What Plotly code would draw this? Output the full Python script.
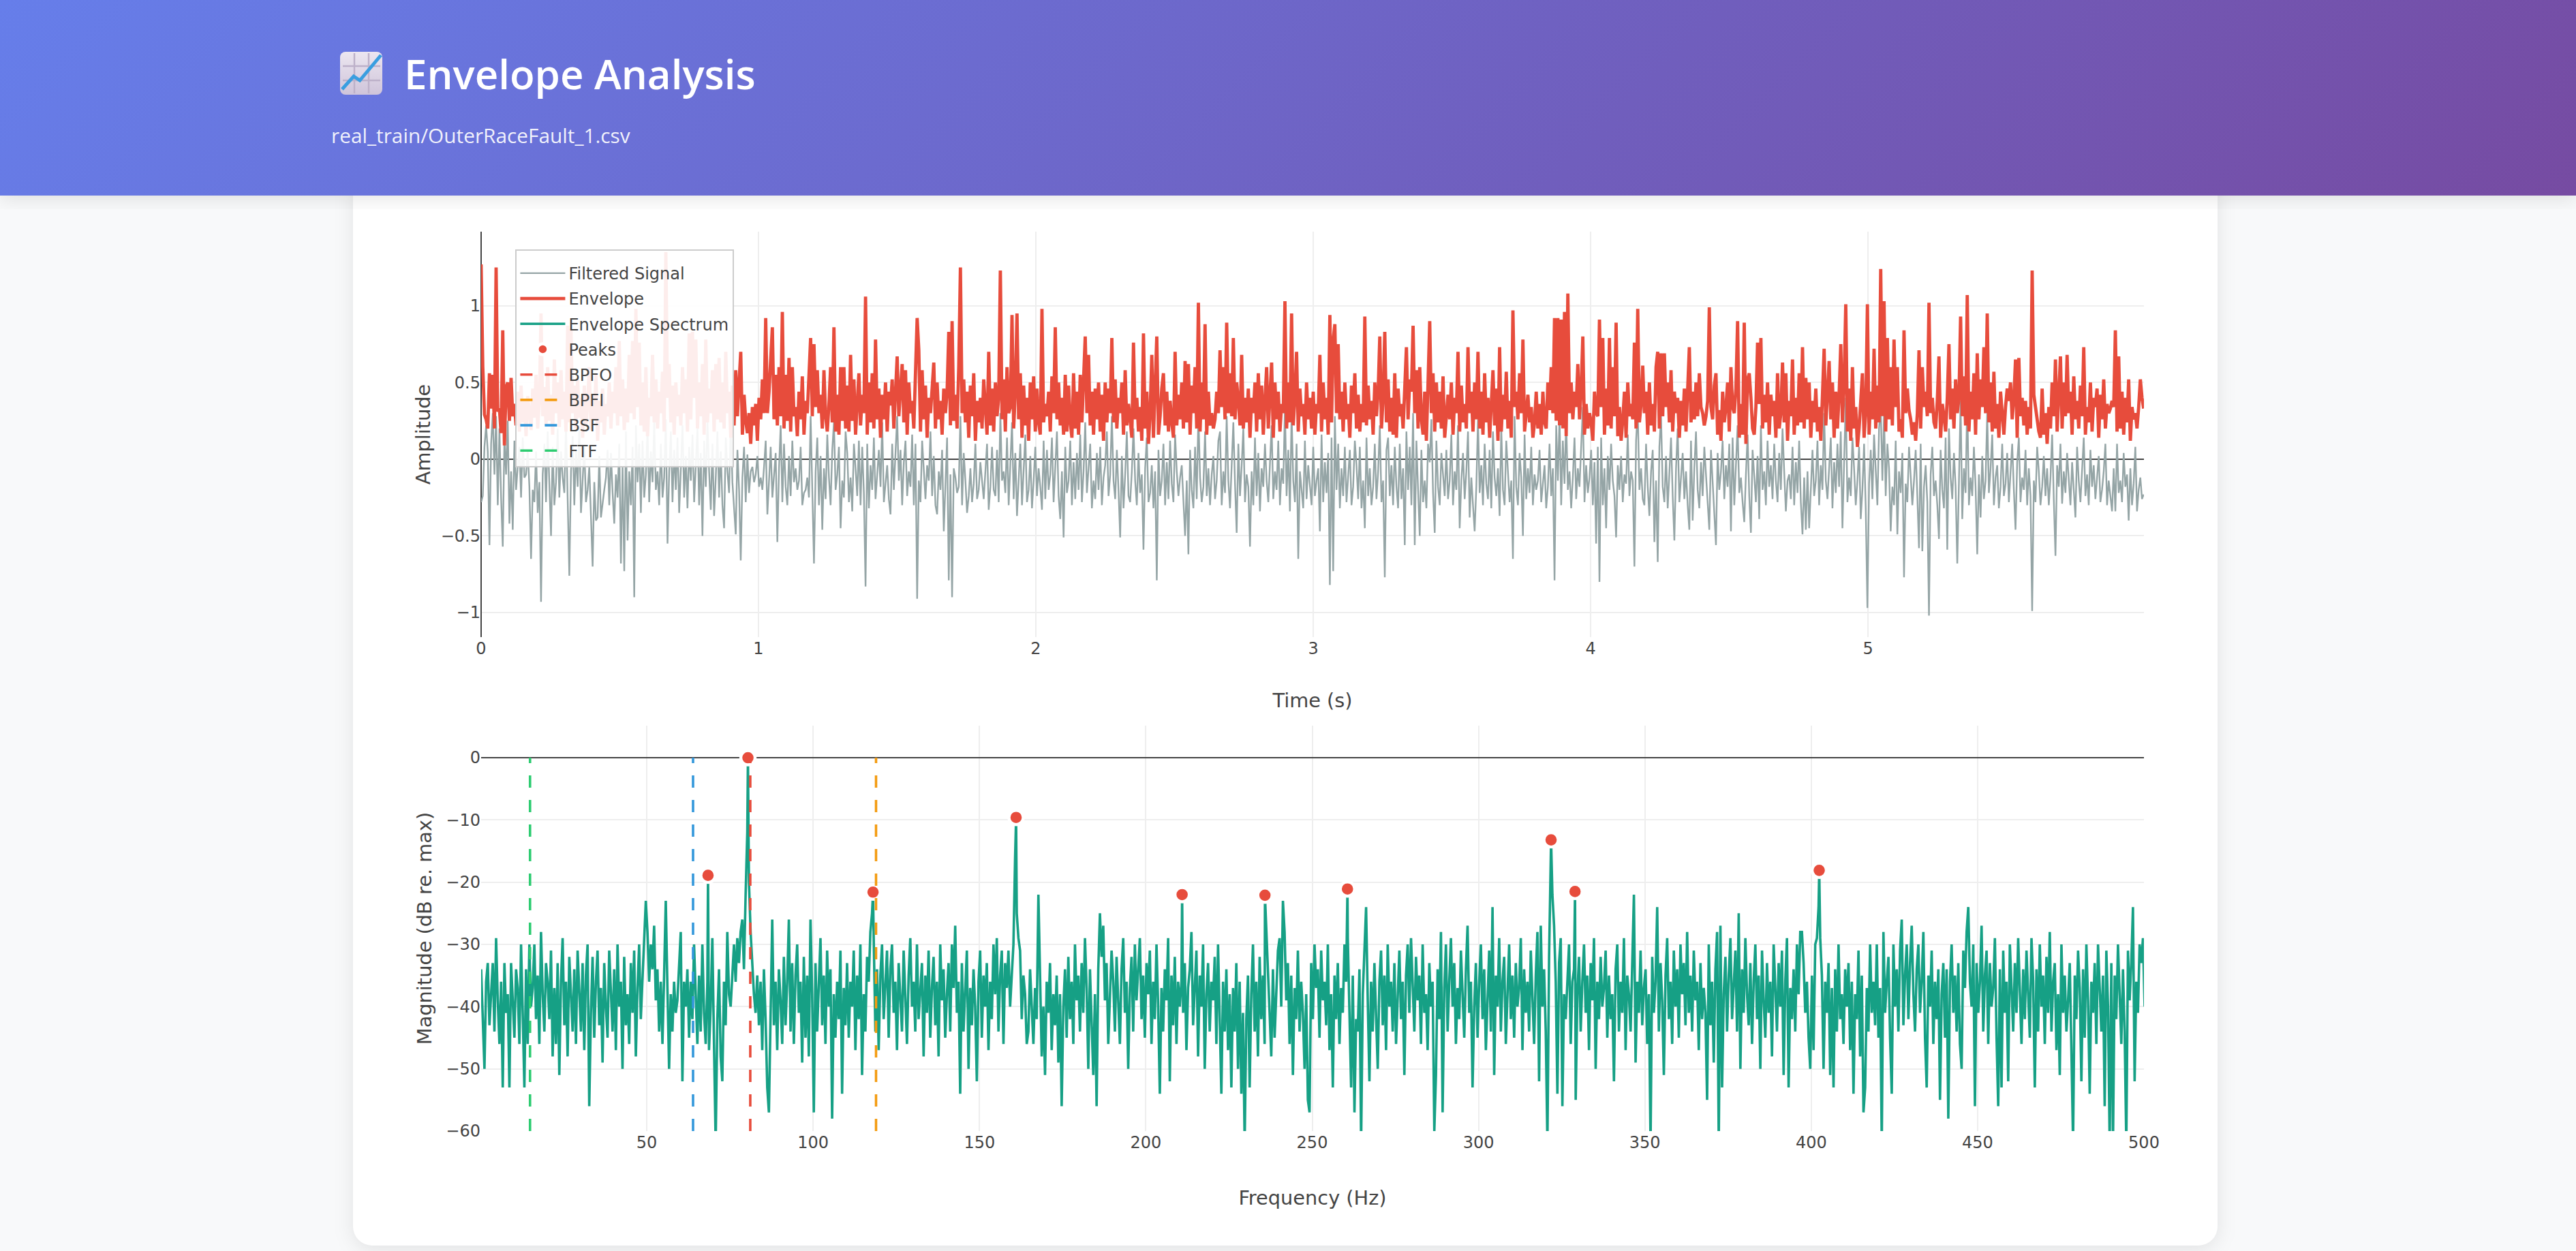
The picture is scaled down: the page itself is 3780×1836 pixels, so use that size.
import base64
import numpy as np
import plotly.graph_objects as go

W, H = 3780, 1836
L, R, T, B = 706, 3146, 340, 1660
TITLE = "Envelope Analysis"
SUBTITLE = "real_train/OuterRaceFault_1.csv"

TIME_STEP = 0.006
# amplitudes in hundredths, 20 samples per row
envelope_pct = [
127,60,29,26,20,56,33,55,20,125,31,33,17,84,9,47,50,25,53,28,
36,22,44,18,48,24,38,15,41,30,19,46,27,55,20,38,95,28,47,22,
60,25,42,16,65,30,50,21,58,26,44,18,87,24,85,30,48,20,52,27,
40,14,48,22,36,60,19,42,26,55,12,38,24,46,16,36,28,50,20,44,
30,60,22,77,28,52,19,46,24,68,30,77,26,98,34,76,22,50,18,60,
15,40,28,68,24,52,20,44,30,57,18,135,40,62,24,48,16,50,28,42,
22,60,30,52,18,82,26,83,40,78,20,50,28,62,16,78,24,46,30,58,
18,62,26,66,24,50,20,70,30,44,14,48,22,58,28,50,70,16,42,25,
17,30,10,34,22,36,12,40,26,52,30,92,30,44,62,86,26,55,22,60,
28,96,20,55,25,66,18,60,28,34,15,44,26,54,16,38,30,52,79,28,
75,34,58,30,42,20,58,28,18,36,60,24,86,18,42,16,60,25,60,20,
48,18,68,25,52,16,38,56,22,42,30,106,16,50,24,56,20,78,26,46,
14,42,26,50,18,44,35,52,20,40,67,28,50,62,24,58,16,50,30,38,
20,55,92,71,18,58,26,48,14,40,30,46,63,20,50,26,38,16,46,30,
44,83,22,90,25,42,20,60,125,30,52,24,44,14,48,28,56,12,38,24,
40,20,52,34,16,70,22,46,18,50,28,40,123,26,52,18,60,30,34,94,
20,44,95,26,56,14,48,22,40,12,50,26,54,18,46,24,16,98,24,36,
28,44,18,54,30,86,26,50,22,40,16,55,18,48,24,14,56,20,44,16,
55,24,50,80,30,68,22,44,16,46,26,50,18,42,12,50,24,46,30,79,
24,52,20,40,30,50,16,58,22,36,26,14,76,26,40,18,34,12,82,20,
44,10,30,68,14,46,80,16,28,46,56,22,44,18,38,24,14,70,22,42,
26,50,20,64,24,62,16,48,30,60,20,102,18,50,26,88,16,44,22,30,
20,26,44,30,71,34,60,26,89,30,56,28,79,26,50,38,22,68,20,40,
24,46,14,40,30,50,18,56,26,48,16,38,60,20,44,63,14,50,26,44,
18,36,30,103,20,50,24,95,22,40,70,18,46,28,36,16,50,26,40,20,
44,16,36,30,68,18,50,26,40,16,94,24,78,88,30,75,26,44,18,50,
26,36,14,48,30,56,20,42,18,36,24,93,22,48,26,38,16,50,28,44,
80,20,40,83,24,52,18,40,16,56,14,46,28,36,20,50,73,26,52,44,
87,30,58,20,60,26,16,44,12,50,90,30,56,18,50,24,44,20,54,14,
30,42,26,50,16,40,30,70,18,48,24,36,20,73,30,44,18,50,26,70,
20,44,16,56,24,40,14,36,58,22,46,12,73,18,42,26,57,20,38,14,
97,34,44,26,56,30,78,18,30,42,24,34,14,24,44,20,36,16,44,24,
20,50,32,60,30,92,25,92,22,91,20,96,15,108,30,50,26,44,34,62,
26,46,80,16,36,20,30,24,12,44,30,28,91,34,79,16,46,22,79,20,
60,28,89,15,34,12,26,44,14,50,28,36,26,76,20,98,24,36,61,30,
44,16,50,22,36,18,60,70,20,69,28,69,34,50,24,58,18,44,30,40,
14,38,22,46,18,42,73,24,44,26,50,28,56,34,30,22,28,38,99,34,
26,48,56,16,32,12,44,24,34,50,18,60,34,30,46,90,14,36,16,89,
10,52,56,40,20,16,34,76,36,79,20,42,24,50,16,42,28,38,14,56,
20,30,63,24,56,12,38,28,65,16,40,22,56,24,73,20,53,26,50,14,
38,24,46,18,34,12,40,72,22,40,64,26,50,14,44,20,42,75,24,50,
101,18,46,12,60,20,34,8,20,38,56,14,30,101,16,44,26,72,20,48,
24,124,28,103,18,79,26,60,22,78,34,60,18,26,14,84,30,46,32,26,
16,24,12,30,71,20,60,34,44,28,102,30,40,24,20,38,67,14,36,28,
18,40,75,26,46,20,52,30,40,93,28,54,22,107,18,44,26,56,16,69,
26,52,34,73,30,95,24,50,18,57,20,36,14,44,26,16,34,46,38,50,
26,40,65,14,66,28,40,22,38,16,34,20,123,42,34,26,18,14,46,16,
30,10,34,20,50,28,65,18,44,67,20,50,28,68,30,44,16,54,26,38,
20,48,28,73,16,34,24,50,18,40,34,46,14,42,26,52,20,36,30,33,
38,34,84,18,67,20,44,16,40,24,52,12,34,26,30,20,34,52,40,33,
]
signal_pct = [
-28,-24,8,22,5,-56,10,30,-10,28,-30,20,-25,-57,15,-10,25,-42,-8,-46,
12,-20,-5,8,-25,14,-12,-10,6,-18,-65,-20,-28,5,-35,-15,-93,-10,10,-28,
18,-20,-50,8,-30,-15,20,-25,5,-12,-22,24,-35,-76,-8,15,-30,6,-18,22,
-35,-12,8,-28,-20,-5,-34,-70,-15,-40,-38,2,-38,-28,-20,-12,6,-30,4,-22,
-42,-10,-25,10,-68,-5,-73,18,-53,-8,-30,8,-90,22,-15,10,-35,12,-25,-10,
20,-28,5,-15,24,-20,-8,-30,10,-25,-12,26,-55,-8,18,-28,6,-20,14,-35,
-10,22,-25,2,-32,8,-14,16,-28,-5,20,-30,4,-50,12,-18,25,-8,-33,10,
-37,-12,18,-25,5,-30,-45,14,-8,-22,24,-15,-30,-49,6,-20,-66,-12,8,-28,
3,-22,-8,-5,-15,-10,2,-18,-12,-20,-5,12,-36,-14,8,-25,-10,4,-54,-6,
22,-28,10,-18,-30,2,-24,12,-15,-6,-20,-14,8,-30,-22,-20,-12,-25,28,-18,
-68,-8,14,-30,2,-46,-6,-26,16,-12,-30,6,24,-20,-10,8,-45,-14,-25,18,
4,-28,-12,-34,10,-6,-24,12,-30,8,-22,-83,10,-32,-4,-20,14,-26,-12,6,
-18,24,-28,-14,-4,-26,-36,10,-20,4,28,-14,6,-30,-2,12,-24,-8,-18,16,
-30,10,-91,-14,-28,12,-6,-26,-4,-14,18,-24,2,-30,-36,-8,-20,6,-47,-12,
14,-79,-10,-90,-6,-12,-22,-18,28,-30,4,-14,-35,-24,-6,-28,-16,10,-26,-20,
-2,-14,-26,-8,10,-33,-18,8,-20,-24,6,-28,30,-14,-8,-22,14,-30,-6,24,
-26,4,-37,-12,10,-30,-6,16,-28,-20,2,-32,-14,8,-24,-6,-18,-33,12,-26,
6,-20,-10,14,-28,-4,18,-24,-39,-8,-51,8,-22,-14,12,-30,-2,-26,4,-20,
16,-28,-8,24,-22,-6,10,-32,-14,-26,4,-20,8,-30,-12,-4,18,-24,-10,28,
-14,-26,6,-20,-51,2,-32,-10,18,-24,-28,-8,20,-14,-30,4,-22,-10,-59,-6,
14,-28,-22,-4,-32,-8,-79,6,-24,-14,10,-30,-2,-26,12,-16,-28,16,-8,-24,
-12,-4,-30,-50,-14,-62,6,-20,-32,8,-26,30,-12,-28,-18,18,-24,-6,-30,-10,
2,-26,-14,12,18,-30,-8,-22,28,-14,-32,-6,24,-16,-48,10,-24,-4,20,-28,
-10,-18,-57,-8,-30,14,-24,4,-34,-6,-18,10,-14,-28,-2,22,-26,-8,-20,12,
-30,-6,-16,34,-24,6,-34,30,-14,-28,10,-65,-8,-22,-32,12,-26,-4,-18,-30,
8,-24,-14,-6,-47,16,-28,-2,-22,4,-82,14,-73,28,-20,10,-32,-6,-24,8,
-28,-12,6,-30,-18,12,-4,-26,8,-32,-14,-45,14,-24,-6,-30,-18,10,-26,-8,
22,-28,-14,-77,6,14,-24,-4,-30,8,-18,-32,10,-26,-6,-56,18,-20,8,-30,
30,-56,12,-20,-50,6,-28,-14,-32,10,-2,26,-22,-48,12,-18,-30,4,-12,-24,
6,-26,-14,16,-30,-8,-20,22,-45,-14,4,-26,-8,18,-38,-12,-30,-47,-18,26,
-22,-4,-30,10,-16,-26,6,-32,18,-12,-24,-6,-37,20,-20,-30,12,-8,-28,-14,
-65,28,-18,-30,4,-12,-50,16,-26,-6,-22,8,-30,-10,-20,-14,6,-28,-16,-4,
-32,-18,10,-24,-6,-79,22,-14,28,-30,12,-16,26,-20,-8,-32,-12,14,-26,-6,
-18,10,34,-28,-4,-22,-12,6,-30,-2,-55,8,-80,14,-30,-6,-45,2,-20,10,
-14,-24,-51,-4,-20,2,-28,-10,-16,16,-24,-8,-14,-70,12,32,-20,-6,-26,-30,
10,-18,-37,-8,6,-54,-14,-67,8,28,-18,-28,2,-32,-10,14,-24,-53,-6,20,
-28,-14,4,-26,-8,-30,-46,12,-40,-6,18,-20,-32,-2,-24,8,-12,-26,-46,6,
-14,-30,-56,4,-20,-8,12,-26,-4,-18,10,-47,14,-30,-6,22,-22,-12,-28,-41,
-10,16,-24,-48,6,-14,-28,2,-39,22,-20,-8,-30,12,-18,-4,-26,10,-14,-28,
4,-20,20,-8,-34,-14,-10,-26,8,-30,-2,-22,12,-28,-49,-12,-46,-8,-45,-20,
6,-24,-14,12,-30,-4,-20,30,-14,-26,-8,14,-32,-2,-22,10,-18,18,-45,-8,
40,-28,-12,-24,14,-6,-30,-14,8,-39,-20,10,-32,-97,-16,6,-26,16,-8,-30,
20,34,-14,30,-24,10,-6,-47,-18,-30,12,-49,-8,-22,4,-77,-16,-28,8,-12,
-30,-14,6,-24,-58,10,-60,-18,-4,-28,-102,-10,8,-24,-14,-30,-52,6,-20,-32,
14,-59,20,-12,-26,4,-18,-68,-8,38,-39,-6,-22,40,-30,-12,-24,8,-18,-62,
-10,-38,2,-26,-14,30,-22,-6,16,-30,-12,-4,-32,-18,10,-24,-16,4,-28,-8,
10,-20,-46,-2,14,-28,-12,-20,6,-30,-6,-24,-99,-14,-28,8,-8,-30,-18,2,
-24,-6,-30,-12,16,-26,-63,-4,-18,10,-29,-8,-22,4,-14,-30,-2,-20,-38,8,
-14,-28,-6,14,-24,-10,-30,6,-18,-4,-26,-12,2,-28,-20,-8,10,-30,-14,-24,
-34,-6,-34,10,-22,-14,-28,4,-18,-10,-40,-6,-30,-16,8,-34,-20,-12,-26,-23,
]

FREQ_START, FREQ_STEP = 0.2, 0.5
# magnitude in dB, 20 samples (10 Hz) per row
spectrum_db = [
-34,-41,-50,-36,-33,-43,-38,-33,-44,-29,-39,-46,-36,-53,-33,-41,-38,-53,-33,-40,
-45,-34,-37,-46,-30,-41,-53,-34,-46,-30,-40,-37,-30,-42,-35,-46,-28,-38,-44,-33,
-36,-42,-31,-48,-37,-46,-33,-51,-36,-29,-43,-36,-48,-32,-39,-44,-34,-46,-31,-38,
-44,-33,-47,-35,-30,-56,-41,-32,-45,-36,-31,-43,-37,-49,-33,-40,-45,-31,-38,-44,
-34,-47,-30,-40,-36,-50,-32,-43,-38,-46,-33,-41,-31,-48,-37,-30,-42,-35,-28,-23,
-28,-36,-30,-34,-27,-39,-34,-44,-36,-46,-35,-23,-37,-50,-38,-44,-36,-41,-39,-34,
-28,-52,-36,-40,-34,-45,-36,-42,-30,-38,-46,-35,-44,-30,-41,-46,-36,-47,-40,-29,
-46,-62,-42,-34,-48,-52,-36,-43,-28,-38,-40,-34,-30,-36,-29,-33,-28,-26,-34,-22,
-12,-20,-28,-34,-38,-41,-35,-43,-36,-47,-34,-42,-53,-57,-40,-26,-43,-36,-47,-34,
-39,-46,-32,-43,-36,-26,-44,-33,-46,-35,-30,-41,-36,-49,-32,-45,-35,-48,-26,-38,
-57,-33,-44,-37,-29,-43,-35,-46,-31,-40,-34,-58,-38,-45,-36,-42,-31,-54,-37,-43,
-33,-45,-36,-40,-31,-47,-35,-42,-30,-51,-38,-44,-32,-36,-28,-25,-29,-44,-34,-47,
-35,-30,-42,-37,-31,-45,-34,-30,-41,-36,-47,-33,-39,-44,-31,-38,-46,-35,-29,-40,
-36,-44,-30,-42,-37,-33,-48,-35,-41,-31,-45,-37,-32,-43,-36,-48,-30,-39,-34,-45,
-38,-33,-44,-30,-37,-27,-41,-36,-54,-33,-44,-38,-31,-50,-37,-43,-34,-40,-52,-36,
-31,-45,-35,-40,-33,-47,-36,-42,-30,-38,-29,-44,-35,-31,-46,-33,-37,-31,-40,-35,
-30,-16,-25,-29,-31,-42,-35,-38,-46,-44,-34,-40,-46,-37,-42,-22,-35,-48,-40,-51,
-36,-41,-33,-47,-38,-43,-35,-49,-38,-56,-40,-34,-45,-32,-42,-36,-46,-30,-39,-35,
-44,-33,-41,-29,-37,-50,-34,-44,-51,-38,-56,-34,-25,-32,-27,-39,-33,-46,-37,-31,
-36,-44,-32,-40,-46,-34,-29,-41,-36,-50,-37,-32,-44,-30,-39,-34,-29,-42,-35,-45,
-33,-38,-31,-46,-36,-42,-30,-40,-54,-37,-44,-34,-39,-29,-52,-35,-43,-32,-46,-36,
-40,-36,-41,-33,-47,-37,-34,-28,-43,-36,-31,-48,-35,-40,-30,-50,-38,-33,-44,-36,
-39,-32,-46,-30,-41,-54,-36,-44,-34,-47,-38,-53,-37,-44,-33,-50,-36,-54,-41,-62,
-42,-35,-53,-38,-30,-44,-36,-48,-32,-42,-35,-46,-28,-36,-41,-48,-34,-45,-37,-31,
-29,-40,-23,-28,-39,-33,-46,-35,-51,-37,-42,-31,-44,-36,-41,-50,-38,-55,-57,-33,
-42,-30,-37,-34,-45,-31,-39,-36,-43,-30,-47,-38,-53,-35,-42,-33,-46,-37,-41,-30,
-36,-29,-40,-53,-35,-57,-42,-44,-34,-62,-38,-30,-24,-39,-52,-36,-44,-33,-41,-50,
-36,-31,-43,-35,-47,-30,-40,-36,-44,-33,-46,-38,-31,-42,-36,-51,-35,-30,-41,-29,
-37,-44,-32,-39,-35,-46,-30,-41,-38,-47,-33,-40,-36,-60,-51,-34,-42,-28,-57,-37,
-30,-44,-36,-29,-40,-33,-46,-37,-42,-31,-38,-45,-34,-27,-41,-36,-53,-40,-33,-45,
-36,-30,-42,-34,-47,-38,-31,-44,-24,-51,-35,-40,-29,-44,-36,-32,-46,-38,-30,-42,
-35,-45,-33,-40,-37,-29,-47,-34,-41,-36,-44,-31,-38,-46,-35,-28,-52,-27,-40,-34,
-44,-62,-32,-20,-22,-27,-36,-54,-33,-29,-56,-38,-42,-35,-30,-46,-36,-34,-55,-38,
-32,-44,-36,-30,-41,-35,-47,-33,-39,-29,-50,-36,-42,-32,-40,-37,-31,-45,-35,-42,
-38,-52,-34,-30,-44,-36,-41,-29,-47,-35,-38,-44,-33,-22,-49,-36,-41,-31,-43,-37,
-34,-46,-38,-62,-32,-41,-36,-24,-44,-33,-39,-51,-35,-29,-42,-36,-46,-31,-40,-34,
-45,-30,-38,-33,-43,-28,-41,-35,-44,-31,-39,-36,-47,-33,-42,-37,-41,-55,-30,-43,
-36,-49,-34,-28,-62,-27,-53,-38,-32,-44,-35,-29,-42,-36,-31,-44,-25,-50,-34,-41,
-29,-38,-43,-33,-46,-36,-30,-42,-35,-50,-31,-39,-45,-33,-41,-36,-48,-30,-37,-44,
-33,-40,-31,-51,-36,-29,-53,-37,-42,-34,-44,-30,-38,-28,-28,-33,-41,-36,-45,-50,
-35,-47,-30,-29,-24,-29,-35,-50,-36,-41,-33,-51,-37,-53,-34,-44,-30,-42,-38,-46,
-34,-40,-33,-47,-36,-54,-38,-42,-31,-48,-35,-57,-53,-37,-44,-30,-41,-36,-43,-30,
-45,-37,-62,-28,-41,-36,-32,-45,-54,-30,-40,-34,-44,-31,-26,-43,-35,-30,-42,-33,
-27,-38,-44,-34,-30,-41,-36,-28,-45,-53,-35,-40,-31,-46,-36,-42,-34,-55,-38,-33,
-45,-34,-58,-36,-30,-41,-35,-44,-33,-46,-50,-31,-37,-28,-24,-36,-40,-30,-56,-33,
-41,-36,-27,-44,-35,-31,-46,-33,-40,-37,-29,-45,-56,-34,-53,-31,-41,-36,-52,-30,
-38,-44,-33,-41,-29,-37,-46,-34,-42,-31,-39,-45,-29,-36,-53,-34,-44,-30,-40,-35,
-46,-32,-41,-28,-44,-36,-33,-47,-38,-51,-30,-41,-35,-44,-39,-33,-47,-62,-35,-42,
-31,-37,-52,-34,-45,-30,-39,-54,-36,-41,-33,-46,-30,-38,-44,-35,-56,-31,-40,-62,
-33,-62,-35,-42,-30,-38,-46,-34,-44,-62,-31,-39,-33,-24,-52,-36,-41,-30,-33,-29,
-40,
]

peak_freq = [68.4, 80.4, 118.0, 161.0, 210.9, 235.8, 260.6, 321.8, 329.0, 402.4]
peak_db = [-18.9, 0.0, -21.6, -9.6, -22.0, -22.1, -21.1, -13.2, -21.5, -18.1]

marker_names = ["BPFO", "BPFI", "BSF", "FTF"]
marker_freq = [81.1, 118.9, 63.9, 14.9]
marker_colors = ["#e74c3c", "#f39c12", "#3498db", "#2ecc71"]


def px(x):
    return (x - L) / (R - L)


def py(y):
    return (B - y) / (B - T)


time_s = np.arange(len(envelope_pct)) * TIME_STEP
signal_t = np.arange(len(signal_pct)) * TIME_STEP
grid = FREQ_START + np.arange(len(spectrum_db)) * FREQ_STEP
spec_f = np.concatenate([grid, peak_freq])
spec_v = np.concatenate([spectrum_db, peak_db])
order = np.argsort(spec_f)

TEXT = "#444"
FONT = "DejaVu Sans, Verdana, sans-serif"

fig = go.Figure()
fig.add_trace(go.Scatter(x=signal_t, y=np.array(signal_pct) / 100, mode="lines", name="Filtered Signal",
                         legendgroup="a", line=dict(color="#95a5a6", width=2.4)))
fig.add_trace(go.Scatter(x=time_s, y=np.array(envelope_pct) / 100, mode="lines", name="Envelope",
                         legendgroup="b", line=dict(color="#e74c3c", width=4.8)))
fig.add_trace(go.Scatter(x=spec_f[order], y=spec_v[order], xaxis="x2", yaxis="y2", mode="lines",
                         name="Envelope Spectrum", legendgroup="c", line=dict(color="#16a085", width=3.6)))
fig.add_trace(go.Scatter(x=peak_freq, y=peak_db, xaxis="x2", yaxis="y2", mode="markers", name="Peaks",
                         legendgroup="d",
                         marker=dict(color="#e74c3c", size=21, line=dict(color="white", width=4.4))))
for name, f, c in zip(marker_names, marker_freq, marker_colors):
    fig.add_trace(go.Scatter(x=[f, f], y=[-60, 0], xaxis="x2", yaxis="y2", mode="lines", name=name,
                             legendgroup=name, line=dict(color=c, width=3.6, dash="18px,18px")))

svg = f'''<svg xmlns="http://www.w3.org/2000/svg" width="{W}" height="{H}" viewBox="0 0 {W} {H}">
<defs>
<linearGradient id="h" gradientUnits="userSpaceOnUse" x1="873" y1="-873" x2="2907" y2="1160">
<stop offset="0" stop-color="#667eea"/><stop offset="1" stop-color="#764ba2"/></linearGradient>
<linearGradient id="e" x1="0" y1="0" x2="0" y2="1"><stop offset="0" stop-color="#ece6f0"/><stop offset="1" stop-color="#cfc4da"/></linearGradient>
<filter id="s" x="-5%" y="-5%" width="110%" height="110%"><feGaussianBlur stdDeviation="14"/></filter>
</defs>
<rect width="{W}" height="{H}" fill="#f8f9fa"/>
<rect x="518" y="260" width="2736" height="1574" rx="28" fill="#000" fill-opacity="0.09" filter="url(#s)"/>
<rect x="518" y="240" width="2736" height="1588" rx="28" fill="#fff"/>
<rect x="0" y="0" width="{W}" height="292" fill="#000" fill-opacity="0.10" filter="url(#s)"/>
<rect x="0" y="0" width="{W}" height="287" fill="url(#h)"/>
<rect x="499" y="76" width="62" height="63" rx="8" fill="url(#e)"/>
<path d="M503 97H558M503 118H558M520 78V137M541 78V137" stroke="#bdb1c9" stroke-width="2.4" fill="none"/>
<path d="M502 131L519 112L528 118L559 81" stroke="#3a9ee0" stroke-width="5" fill="none"/>
</svg>'''
bg = "data:image/svg+xml;base64," + base64.b64encode(svg.encode()).decode()

axis_common = dict(showgrid=True, gridcolor="#eeeeee", gridwidth=2.4, zeroline=True, zerolinecolor="#444",
                   zerolinewidth=2.4, showline=False, ticks="", automargin=False,
                   tickfont=dict(family=FONT, size=24, color=TEXT))
title_font = dict(family=FONT, size=28.8, color=TEXT)

fig.update_layout(
    template="plotly_white",
    width=W, height=H,
    autosize=False,
    margin=dict(l=L, r=W - R, t=T, b=H - B, pad=0),
    paper_bgcolor="rgba(0,0,0,0)",
    plot_bgcolor="rgba(0,0,0,0)",
    font=dict(family=FONT, size=24, color=TEXT),
    images=[dict(source=bg, xref="paper", yref="paper", x=px(0), y=py(0), sizex=W / (R - L), sizey=H / (B - T),
                 xanchor="left", yanchor="top", sizing="stretch", layer="below")],
    xaxis=dict(domain=[0, 1], anchor="y", range=[0, 5.995], dtick=1, tick0=0,
               title=dict(text="Time (s)", font=title_font, standoff=52), **axis_common),
    yaxis=dict(domain=[1 - (935 - T) / (B - T), 1], anchor="x", range=[-1.16, 1.483],
               tickvals=[-1, -0.5, 0, 0.5, 1], ticktext=["−1", "−0.5", "0", "0.5", "1"],
               title=dict(text="Amplitude", font=title_font, standoff=6), **axis_common),
    xaxis2=dict(domain=[0, 1], anchor="y2", range=[0.2, 500], tick0=0, dtick=50,
                title=dict(text="Frequency (Hz)", font=title_font, standoff=57), **axis_common),
    yaxis2=dict(domain=[0, (B - 1065) / (B - T)], anchor="x2", range=[-60, 5.15], tick0=0, dtick=10,
                title=dict(text="Magnitude (dB re. max)", font=title_font, standoff=12), **axis_common),
    legend=dict(x=px(756), y=py(366), xanchor="left", yanchor="top", bgcolor="rgba(255,255,255,0.9)",
                bordercolor="#ccc", borderwidth=2.4, font=dict(family=FONT, size=24, color=TEXT),
                itemwidth=66, tracegroupgap=3,
                traceorder="grouped",
                title=dict(text=" ", font=dict(family=FONT, size=8))),
    annotations=[
        dict(text=TITLE, xref="paper", yref="paper", x=px(591), y=py(108), xanchor="left", yanchor="middle",
             showarrow=False, font=dict(family="Open Sans", size=60, color="white", weight=600)),
        dict(text=SUBTITLE, xref="paper", yref="paper", x=px(484), y=py(199), xanchor="left", yanchor="middle",
             showarrow=False, font=dict(family="Open Sans", size=29.8, color="rgba(255,255,255,0.92)")),
    ],
)

fig.write_html("out.html", config={"displayModeBar": False},
               post_script="document.body.style.margin='0';document.body.style.overflow='hidden';document.documentElement.style.overflow='hidden';")
